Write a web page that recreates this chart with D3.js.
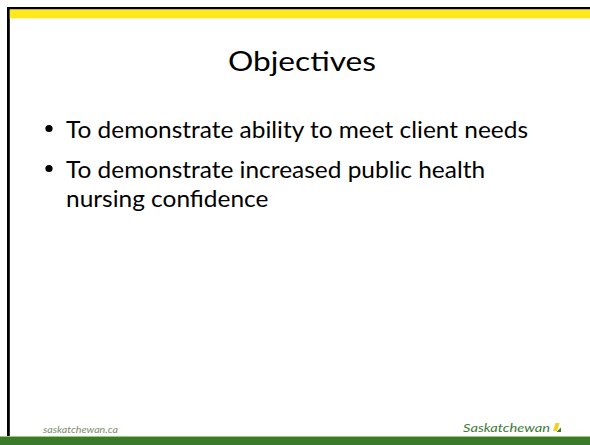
<!DOCTYPE html>
<html>
<head>
<meta charset="utf-8">
<script src="https://cdn.jsdelivr.net/npm/d3@7"></script>
<style>
html,body{margin:0;padding:0;background:#fff;}
svg{display:block;}
</style>
</head>
<body>
<svg id="slide" width="590" height="445"></svg>
<script>
// ---- content ----
const titleText = "Objectives";
const bulletItems = [
  ["To demonstrate ability to meet client needs"],
  ["To demonstrate increased public health", "nursing confidence"]
];
const footerLeft = "saskatchewan.ca";
const footerRight = "Saskatchewan";

const svg = d3.select("#slide");
const W = 590, H = 445;
const FONT = "Lato, 'Open Sans', sans-serif";

// background
svg.append("rect").attr("width", W).attr("height", H).attr("fill", "#ffffff");

// frame: top black line, left black line
svg.append("rect").attr("x", 7).attr("y", 7).attr("width", W - 7).attr("height", 2.5).attr("fill", "#000");
svg.append("rect").attr("x", 7).attr("y", 7).attr("width", 2.8).attr("height", 433).attr("fill", "#000");
// yellow band
svg.append("rect").attr("x", 9.8).attr("y", 9.5).attr("width", W - 9.8).attr("height", 8.5).attr("fill", "#ffe81c");
svg.append("rect").attr("x", 9.8).attr("y", 18).attr("width", W - 9.8).attr("height", 1).attr("fill", "#fff6b0");

// bottom green band
svg.append("rect").attr("x", 0).attr("y", 436).attr("width", W).attr("height", 1.2).attr("fill", "#9cc77c");
svg.append("rect").attr("x", 0).attr("y", 437).attr("width", W).attr("height", 8).attr("fill", "#3a7a2a");

// title
const title = svg.append("text")
  .attr("x", 302).attr("y", 71)
  .attr("text-anchor", "middle")
  .attr("font-family", FONT)
  .attr("font-size", 26)
  .attr("fill", "#000")
  .text(titleText);
title.attr("textLength", 148).attr("lengthAdjust", "spacingAndGlyphs");

// bullets
const bulletY = [138, 178];
const lineGap = 29;
const textX = 66;
const bodySize = 22.5;
const g = svg.append("g");
let scaleFactor = null;
bulletItems.forEach((lines, i) => {
  g.append("circle").attr("cx", 49).attr("cy", bulletY[i] - 9.5).attr("r", 3.6).attr("fill", "#000");
  lines.forEach((ln, j) => {
    const t = g.append("text")
      .attr("x", textX).attr("y", bulletY[i] + j * lineGap)
      .attr("font-family", FONT)
      .attr("font-size", bodySize)
      .attr("fill", "#000")
      .text(ln);
    const w = t.node().getComputedTextLength();
    if (scaleFactor === null) scaleFactor = 462 / w;
    t.attr("textLength", w * scaleFactor).attr("lengthAdjust", "spacingAndGlyphs");
  });
});

// footer left
svg.append("text")
  .attr("x", 43).attr("y", 433)
  .attr("font-family", FONT)
  .attr("font-style", "italic")
  .attr("font-size", 9.5)
  .attr("fill", "#7f8e6c")
  .attr("textLength", 75).attr("lengthAdjust", "spacingAndGlyphs")
  .text(footerLeft);

// footer right logo text
svg.append("text")
  .attr("x", 463).attr("y", 432)
  .attr("font-family", FONT)
  .attr("font-style", "italic")
  .attr("font-size", 11.5)
  .attr("fill", "#3d7a38")
  .attr("textLength", 87).attr("lengthAdjust", "spacingAndGlyphs")
  .text(footerRight);

// flag mark
const line = d3.line();
svg.append("path")
  .attr("d", line([[555.5, 423], [559.5, 423], [557, 431], [553, 431]]) + "Z")
  .attr("fill", "#f2d21a");
svg.append("path")
  .attr("d", line([[556.5, 432], [561, 427.5], [561, 432]]) + "Z")
  .attr("fill", "#3a7a2a");
</script>
</body>
</html>
